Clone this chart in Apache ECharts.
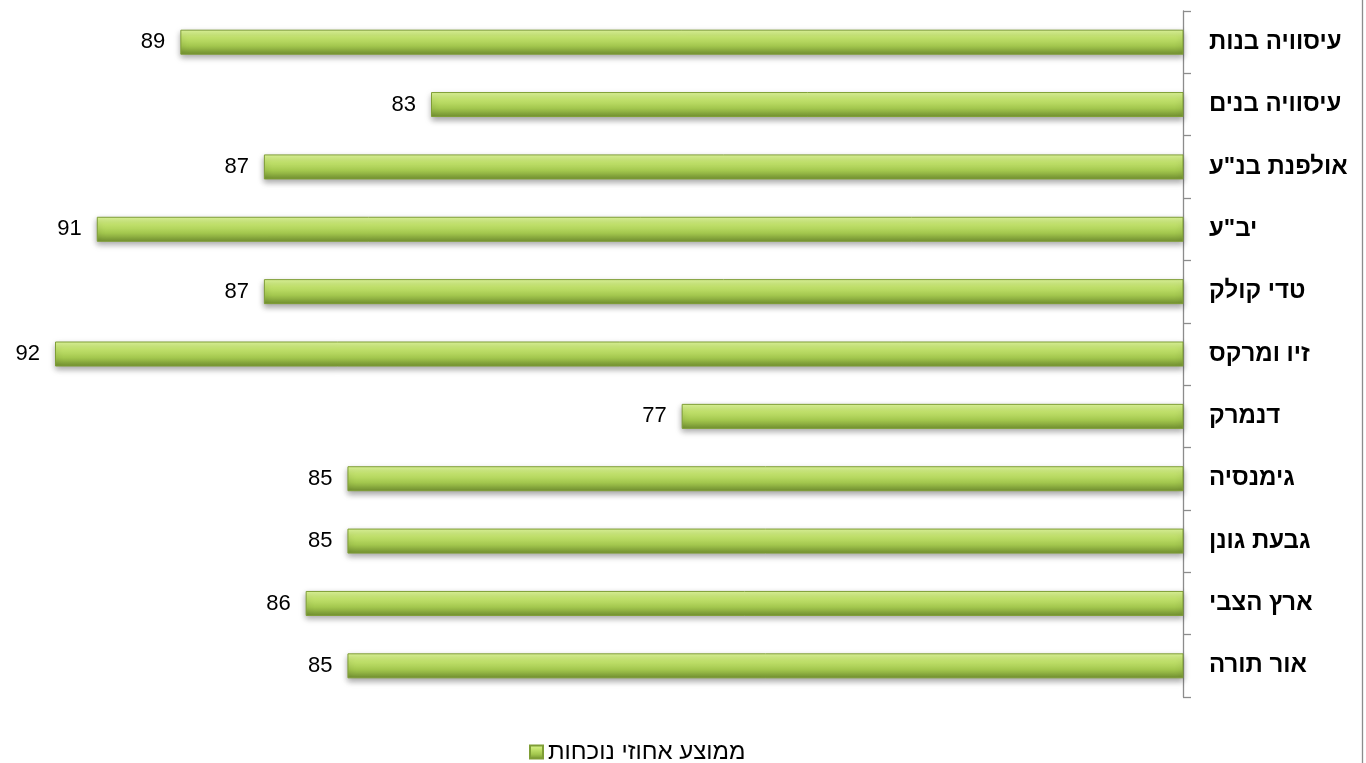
<!DOCTYPE html>
<html><head><meta charset="utf-8">
<script src="https://cdn.jsdelivr.net/npm/echarts@6/dist/echarts.min.js"></script>
<style>html,body{margin:0;padding:0;background:#fff}#c{width:1366px;height:763px}</style>
</head><body><div id="c"></div>
<script>
const categories = ['עיסוויה בנות','עיסוויה בנים','אולפנת בנ"ע','יב"ע','טדי קולק','זיו ומרקס','דנמרק','גימנסיה','גבעת גונן','ארץ הצבי','אור תורה'];
const values = [89, 83, 87, 91, 87, 92, 77, 85, 85, 86, 85];
const seriesName = 'ממוצע אחוזי נוכחות';

const chart = echarts.init(document.getElementById('c'));
const barGrad = new echarts.graphic.LinearGradient(0,0,0,1,[
  {offset:0,color:'#dff79c'},
  {offset:0.3,color:'#c4e46e'},
  {offset:0.65,color:'#a3c74e'},
  {offset:1,color:'#718f30'}
]);
chart.setOption({
  animation:false,
  grid:{left:55,right:183,top:11,bottom:66,containLabel:false},
  xAxis:{type:'value',inverse:true,min:65,max:92,show:false},
  yAxis:{type:'category',data:categories,inverse:true,position:'right',
    axisLine:{show:true,lineStyle:{color:'#8c8c8c',width:1.3}},
    axisTick:{show:true,length:8,inside:false,lineStyle:{color:'#8c8c8c',width:1.3}},
    axisLabel:{align:'left',margin:26,color:'#000',fontFamily:'Liberation Sans, Arial, sans-serif',fontWeight:'bold',fontSize:24}
  },
  legend:{show:true,top:735,left:524,align:'left',itemWidth:13,itemHeight:13,itemGap:4,
    textStyle:{fontFamily:'Liberation Sans, Arial, sans-serif',fontSize:24,color:'#000'},
    data:[{name:seriesName,icon:'rect'}]},
  series:[{type:'bar',name:seriesName,data:values,barWidth:25,
    itemStyle:{color:barGrad,borderColor:'#7f9e36',borderWidth:1,shadowColor:'rgba(0,0,0,0.35)',shadowBlur:6,shadowOffsetY:3},
    label:{show:true,position:'left',distance:15,color:'#000',fontFamily:'Liberation Sans, Arial, sans-serif',fontSize:22}
  }],
  graphic:[{type:'line',shape:{x1:1362.5,y1:0,x2:1362.5,y2:763},style:{stroke:'#8c8c8c',lineWidth:1.3}}]
});
</script></body></html>
